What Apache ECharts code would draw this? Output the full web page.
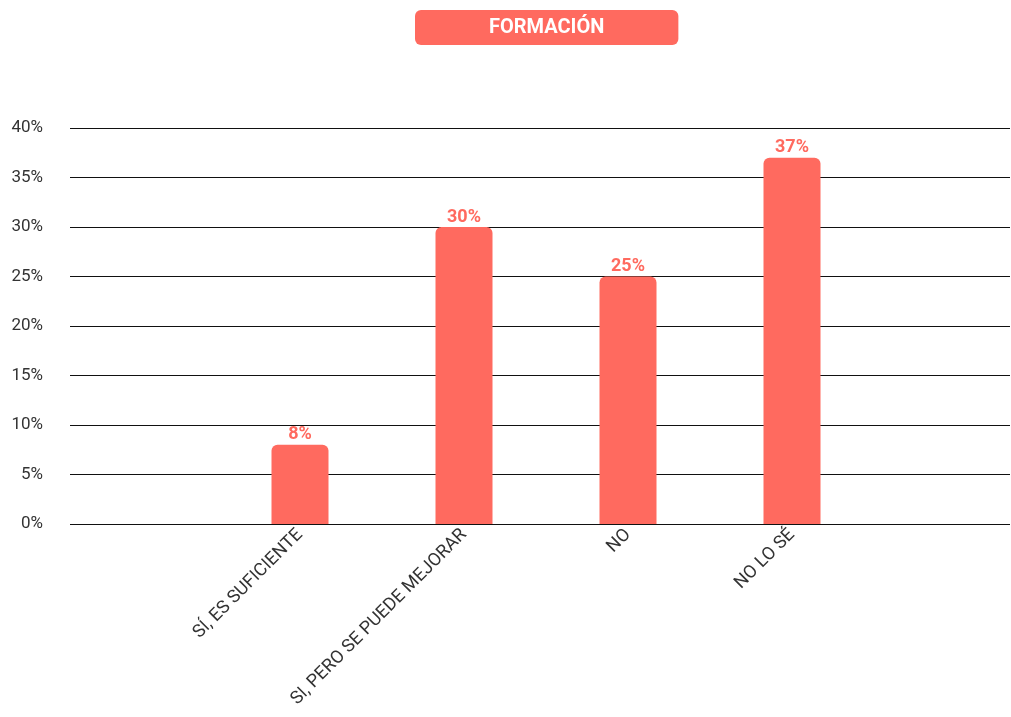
<!DOCTYPE html>
<html>
<head>
<meta charset="utf-8">
<script src="https://cdn.jsdelivr.net/npm/echarts@6/dist/echarts.min.js"></script>
<style>
  html, body { margin: 0; padding: 0; background: #fff; }
  #charts { width: 1011px; height: 717px; }
</style>
</head>
<body>
<div id="charts"></div>
<script>
var categories = ['SÍ, ES SUFICIENTE', 'SI, PERO SE PUEDE MEJORAR', 'NO', 'NO LO SÉ'];
var values = [8, 30, 25, 37];
var yMin = 0, yMax = 40, yStep = 5;

var barColor = '#ff6a5f';

var chartDom = document.getElementById('charts');
var myChart = echarts.init(chartDom, null, { renderer: 'canvas' });

var option = {
  backgroundColor: '#ffffff',
  textStyle: { fontFamily: 'Roboto' },
  title: {
    text: 'FORMACIÓN',
    left: 415,
    top: 10,
    padding: [6, 74, 6, 74],
    backgroundColor: barColor,
    borderRadius: 6,
    textStyle: {
      color: '#ffffff',
      fontFamily: 'Roboto',
      fontWeight: 'bold',
      fontSize: 20,
      lineHeight: 23
    }
  },
  grid: [
    // full-width grid for the gridlines and the y labels
    { left: 70, right: 1, top: 128, bottom: 193 },
    // narrower grid where the bars sit
    { left: 218, right: 137, top: 128, bottom: 193 }
  ],
  xAxis: [
    { gridIndex: 0, type: 'value', show: false, min: 0, max: 1 },
    {
      gridIndex: 1,
      type: 'category',
      data: categories,
      axisLine: { show: false },
      axisTick: { show: false },
      axisLabel: {
        rotate: 45,
        interval: 0,
        margin: 8,
        color: '#333333',
        fontFamily: 'Roboto',
        fontSize: 18
      }
    }
  ],
  yAxis: [
    {
      gridIndex: 0,
      type: 'value',
      min: yMin,
      max: yMax,
      interval: yStep,
      axisLine: { show: false },
      axisTick: { show: false },
      axisLabel: {
        formatter: '{value}%',
        margin: 27,
        color: '#333333',
        fontFamily: 'Roboto',
        fontSize: 17
      },
      splitLine: { lineStyle: { color: '#111111', width: 1 } }
    },
    {
      gridIndex: 1,
      type: 'value',
      min: yMin,
      max: yMax,
      interval: yStep,
      show: false,
      splitLine: { show: false }
    }
  ],
  series: [
    {
      type: 'bar',
      xAxisIndex: 1,
      yAxisIndex: 1,
      data: values,
      barWidth: 57,
      itemStyle: { color: barColor, borderRadius: [6, 6, 0, 0] },
      label: {
        show: true,
        position: 'top',
        distance: 1,
        formatter: '{c}%',
        color: barColor,
        fontFamily: 'Roboto',
        fontWeight: 'bold',
        fontSize: 18
      }
    }
  ]
};

option && myChart.setOption(option);
</script>
</body>
</html>
